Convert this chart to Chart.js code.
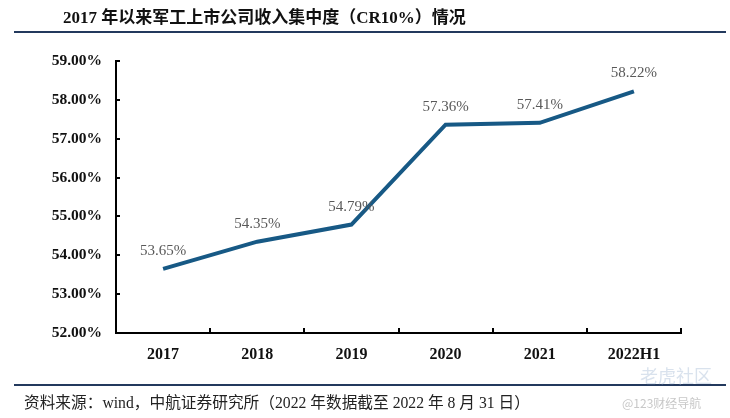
<!DOCTYPE html>
<html>
<head>
<meta charset="utf-8">
<script src="https://cdn.jsdelivr.net/npm/chart.js@4"></script>
<style>
  html, body { margin: 0; padding: 0; background: #fff; }
  #wrap { position: relative; width: 730px; height: 418px; overflow: hidden; }
  #c { position: absolute; left: 0; top: 0; }
  .title { position: absolute; left: 63px; top: 3px; font: bold 17px "Liberation Serif", "Noto Sans CJK SC", serif; color: #111; white-space: nowrap; }
  .rule { position: absolute; left: 14px; width: 712px; height: 2px; background: #23395d; }
  .src { position: absolute; left: 24px; top: 390px; font: 15.7px "Liberation Serif", "Noto Sans CJK SC", serif; color: #222; white-space: nowrap; }
  .wm { position: absolute; left: 622px; top: 394px; font: 12px "Noto Sans CJK SC", sans-serif; color: #c8c8c8; white-space: nowrap; }
  .wm2 { position: absolute; left: 640px; top: 362px; font: 18px "Noto Sans CJK SC", sans-serif; color: rgba(170,190,215,0.45); white-space: nowrap; }
</style>
</head>
<body>
<div id="wrap">
  <canvas id="c" width="730" height="418"></canvas>
  <div class="title">2017 年以来军工上市公司收入集中度（CR10%）情况</div>
  <div class="rule" style="top:31px"></div>
  <div class="rule" style="top:384px"></div>
  <div class="src">资料来源：wind，中航证券研究所（2022 年数据截至 2022 年 8 月 31 日）</div>
  <div class="wm2">老虎社区</div>
  <div class="wm">@123财经导航</div>
</div>
<script>
const categories = ["2017", "2018", "2019", "2020", "2021", "2022H1"];
const cr10Values = [53.65, 54.35, 54.79, 57.36, 57.41, 58.22];
const yTickValues = [52, 53, 54, 55, 56, 57, 58, 59];

const inwardTicks = {
  id: 'inwardTicks',
  afterDraw(chart) {
    const ctx = chart.ctx;
    const x = chart.scales.x, y = chart.scales.y;
    const a = chart.chartArea;
    ctx.save();
    ctx.strokeStyle = '#000';
    ctx.lineWidth = 2;
    yTickValues.forEach(v => {
      const py = Math.round(y.getPixelForValue(v));
      ctx.beginPath();
      ctx.moveTo(a.left, py);
      ctx.lineTo(a.left + 4, py);
      ctx.stroke();
    });
    const n = categories.length;
    for (let i = 1; i <= n; i++) {
      const px = Math.round(a.left + i * (a.right - a.left) / n);
      ctx.beginPath();
      ctx.moveTo(px, a.bottom);
      ctx.lineTo(px, a.bottom - 5);
      ctx.stroke();
    }
    const meta = chart.getDatasetMeta(0);
    ctx.fillStyle = '#595959';
    ctx.font = '15px "Liberation Serif", serif';
    ctx.textAlign = 'center';
    ctx.textBaseline = 'middle';
    meta.data.forEach((pt, i) => {
      ctx.fillText(cr10Values[i].toFixed(2) + '%', pt.x, pt.y - 18);
    });
    ctx.restore();
  }
};

new Chart(document.getElementById('c'), {
  type: 'line',
  data: {
    labels: categories,
    datasets: [{
      data: cr10Values,
      borderColor: '#175985',
      borderWidth: 4,
      pointRadius: 0,
      tension: 0,
      fill: false
    }]
  },
  options: {
    responsive: false,
    animation: false,
    devicePixelRatio: 1,
    layout: { padding: { left: 0, right: 49, top: 61, bottom: 55 } },
    plugins: { legend: { display: false }, tooltip: { enabled: false } },
    scales: {
      x: {
        type: 'category',
        offset: true,
        grid: { display: true, drawOnChartArea: false, drawTicks: false, offset: true, color: 'transparent' },
        border: { display: true, color: '#000', width: 2 },
        ticks: { color: '#111', font: { family: '"Liberation Serif", serif', size: 16, weight: 'bold' }, padding: 12, maxRotation: 0 },
        afterFit(s) { s.height = 30; }
      },
      y: {
        min: 52, max: 59,
        grid: { display: true, drawOnChartArea: false, drawTicks: false, color: 'transparent' },
        border: { display: true, color: '#000', width: 2 },
        afterBuildTicks(s) { s.ticks = yTickValues.map(v => ({ value: v })); },
        ticks: {
          color: '#111',
          font: { family: '"Liberation Serif", serif', size: 15.5, weight: 'bold' },
          padding: 14,
          callback: v => Number(v).toFixed(2) + '%'
        },
        afterFit(s) { s.width = 116; }
      }
    }
  },
  plugins: [inwardTicks]
});
</script>
</body>
</html>
